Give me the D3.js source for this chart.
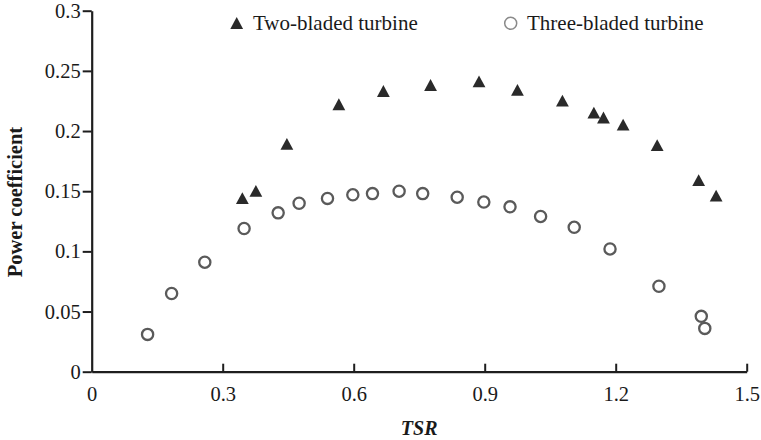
<!DOCTYPE html>
<html>
<head>
<meta charset="utf-8">
<script src="https://cdn.jsdelivr.net/npm/d3@7"></script>
<style>
  html, body { margin: 0; padding: 0; background: #fff; }
  svg { display: block; }
  text { font-family: "Liberation Serif", "Times New Roman", serif; fill: #1a1a1a; }
</style>
</head>
<body>
<svg id="chart" width="761" height="440"></svg>
<script>
// Two-bladed turbine
const twoTSR = [0.345, 0.376, 0.447, 0.566, 0.668, 0.776, 0.887, 0.975, 1.078, 1.150, 1.172, 1.217, 1.295, 1.390, 1.430];
const twoCp  = [0.144, 0.150, 0.189, 0.222, 0.233, 0.238, 0.241, 0.234, 0.225, 0.215, 0.211, 0.205, 0.188, 0.159, 0.146];
// Three-bladed turbine
const threeTSR = [0.128, 0.183, 0.259, 0.349, 0.427, 0.475, 0.540, 0.598, 0.643, 0.704, 0.758, 0.837, 0.898, 0.958, 1.028, 1.105, 1.187, 1.299, 1.396, 1.404];
const threeCp  = [0.031, 0.065, 0.091, 0.119, 0.132, 0.140, 0.144, 0.147, 0.148, 0.150, 0.148, 0.145, 0.141, 0.137, 0.129, 0.120, 0.102, 0.071, 0.046, 0.036];

const xTicks = [0, 0.3, 0.6, 0.9, 1.2, 1.5];
const xTickLabels = ["0", "0.3", "0.6", "0.9", "1.2", "1.5"];
const yTicks = [0, 0.05, 0.1, 0.15, 0.2, 0.25, 0.3];
const yTickLabels = ["0", "0.05", "0.1", "0.15", "0.2", "0.25", "0.3"];
const seriesNames = ["Two-bladed turbine", "Three-bladed turbine"];
const xTitle = "TSR";
const yTitle = "Power coefficient";

const svg = d3.select("#chart");
const x = d3.scaleLinear().domain([0, 1.5]).range([91.7, 746.7]);
const y = d3.scaleLinear().domain([0, 0.3]).range([371.7, 10.7]);
const axisColor = "#1e1e1e";

// Axes
const gx = svg.append("g").attr("transform", `translate(0,${y(0)})`)
  .call(d3.axisBottom(x).tickValues(xTicks).tickFormat((d, i) => xTickLabels[i])
    .tickSizeInner(-8).tickSizeOuter(0).tickPadding(15));
const gy = svg.append("g").attr("transform", `translate(${x(0)},0)`)
  .call(d3.axisLeft(y).tickValues(yTicks).tickFormat((d, i) => yTickLabels[i])
    .tickSizeInner(9).tickSizeOuter(0).tickPadding(2));

[gx, gy].forEach(g => {
  g.select(".domain").attr("stroke", axisColor).attr("stroke-width", 2.2);
  g.selectAll(".tick line").attr("stroke", axisColor).attr("stroke-width", 2);
  g.selectAll(".tick text").attr("font-family", "Liberation Serif, serif")
    .attr("font-size", 20.5).attr("fill", "#1a1a1a");
});
gx.selectAll(".tick").filter(d => d === 0).select("line").remove();

// Axis titles
svg.append("text").attr("x", x(0.75)).attr("y", 435)
  .attr("text-anchor", "middle").attr("font-size", 20)
  .attr("font-weight", "bold").attr("font-style", "italic").text(xTitle);
svg.append("text").attr("transform", `translate(22,${y(0.141)}) rotate(-90)`)
  .attr("text-anchor", "middle").attr("font-size", 20.5)
  .attr("font-weight", "bold").text(yTitle);

// Marker shapes
const triPath = "M0,-6.2 L6.4,5.6 L-6.4,5.6 Z";

const two = twoTSR.map((t, i) => ({ t, c: twoCp[i] }));
const three = threeTSR.map((t, i) => ({ t, c: threeCp[i] }));

svg.append("g").selectAll("circle").data(three).join("circle")
  .attr("cx", d => x(d.t)).attr("cy", d => y(d.c)).attr("r", 5.6)
  .attr("fill", "none").attr("stroke", "#5a5a5a").attr("stroke-width", 2.3);

svg.append("g").selectAll("path").data(two).join("path")
  .attr("transform", d => `translate(${x(d.t)},${y(d.c)})`)
  .attr("d", triPath).attr("fill", "#2a2a2a");

// Legend
const lg = svg.append("g");
lg.append("path").attr("transform", "translate(236.7,23.3)").attr("d", triPath).attr("fill", "#2a2a2a");
lg.append("text").attr("x", 253).attr("y", 30).attr("font-size", 21).text(seriesNames[0]);
lg.append("circle").attr("cx", 510.7).attr("cy", 23.3).attr("r", 6)
  .attr("fill", "none").attr("stroke", "#8a8a8a").attr("stroke-width", 1.5);
lg.append("text").attr("x", 527).attr("y", 30).attr("font-size", 21).text(seriesNames[1]);
</script>
</body>
</html>
